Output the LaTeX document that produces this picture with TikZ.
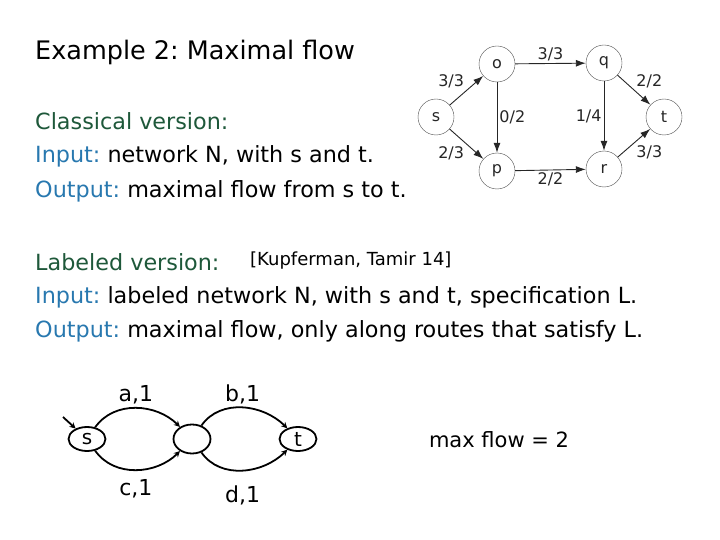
\documentclass[tikz,border=0pt]{standalone}
\usepackage{fontspec}
\setmainfont{DejaVu Sans}
\usetikzlibrary{positioning,arrows.meta,shapes.geometric}

\definecolor{versiongreen}{RGB}{30,88,58}
\definecolor{keyblue}{RGB}{40,120,175}
\frenchspacing

\begin{document}
\begin{tikzpicture}[
  x=1pt, y=1pt,
  title/.style={anchor=base west, inner sep=0pt, font=\fontsize{25.5}{30}\selectfont},
  textline/.style={anchor=base west, inner sep=0pt, font=\fontsize{22.3}{26}\selectfont},
  cite/.style={anchor=base west, inner sep=0pt, font=\fontsize{18}{21}\selectfont},
  netnode/.style={circle, draw=black!70, minimum size=36pt, inner sep=0pt,
                  font=\fontsize{16}{18}\selectfont, text=black!85},
  netarr/.style={-{Latex[length=10pt,width=7pt]}, black!85, line width=0.9pt},
  netlab/.style={font=\fontsize{16}{18}\selectfont, text=black!85, inner sep=2pt},
  lstate/.style={ellipse, draw, line width=1.8pt, minimum width=37pt,
                 minimum height=24pt, inner sep=0pt, font=\fontsize{20}{23}\selectfont},
  larr/.style={-{Stealth[length=6pt,width=6pt]}, line width=1.8pt},
  lablab/.style={font=\fontsize{22}{26}\selectfont, inner sep=3pt},
]
\useasboundingbox (0,0) rectangle (720,-540);

% text
\node[title]    (head)  at (35,-60)  {Example 2: Maximal flow};
\node[textline] (cv)    at (35,-130) {\textcolor{versiongreen}{Classical version:}};
\node[textline] (cin)   at (35,-163) {\textcolor{keyblue}{Input:} network N, with s and t.};
\node[textline] (cout)  at (35,-197) {\textcolor{keyblue}{Output:} maximal flow from s to t.};
\node[textline] (lv)    at (35,-270) {\textcolor{versiongreen}{Labeled version:}};
\node[cite]     (ref)   at (250,-265) {[Kupferman, Tamir 14]};
\node[textline] (lin)   at (35,-303) {\textcolor{keyblue}{Input:} labeled network N, with s and t, specification L.};
\node[textline] (lout)  at (35,-337) {\textcolor{keyblue}{Output:} maximal flow, only along routes that satisfy L.};

% classical network
\node[netnode] (ns) at (436,-117) {s};
\node[netnode] (no) at (497,-64)  {o};
\node[netnode] (nq) at (604,-63)  {q};
\node[netnode] (np) at (497,-171) {p};
\node[netnode] (nr) at (604,-169) {r};
\node[netnode] (nt) at (664,-117) {t};
\draw[netarr] (ns) -- node[netlab, above left]{3/3} (no);
\draw[netarr] (ns) -- node[netlab, below left]{2/3} (np);
\draw[netarr] (no) -- node[netlab, above]{3/3} (nq);
\draw[netarr] (no) -- node[netlab, right]{0/2} (np);
\draw[netarr] (nq) -- node[netlab, left]{1/4} (nr);
\draw[netarr] (np) -- node[netlab, below]{2/2} (nr);
\draw[netarr] (nq) -- node[netlab, above right]{2/2} (nt);
\draw[netarr] (nr) -- node[netlab, below right]{3/3} (nt);

% labeled network
\node[lstate] (s) at (87,-439)  {s};
\node[lstate, minimum width=37pt, minimum height=29pt] (m) at (192,-439) {};
\node[lstate] (t) at (298,-439) {t};
\coordinate (init) at (63,-417);
\draw[larr] (init) -- (s);
\draw[larr] (s) to[out=55,in=135] node[lablab, above]{a,1} (m);
\draw[larr] (s) to[out=-55,in=-135] node[lablab, below=6pt]{c,1} (m);
\draw[larr] (m) to[out=55,in=135] node[lablab, above]{b,1} (t);
\draw[larr] (m) to[out=-55,in=-135] node[lablab, below=12pt]{d,1} (t);
\node[textline, anchor=center, font=\fontsize{21}{25}\selectfont] (maxf) at (499,-440) {max flow = 2};
\end{tikzpicture}
\end{document}
